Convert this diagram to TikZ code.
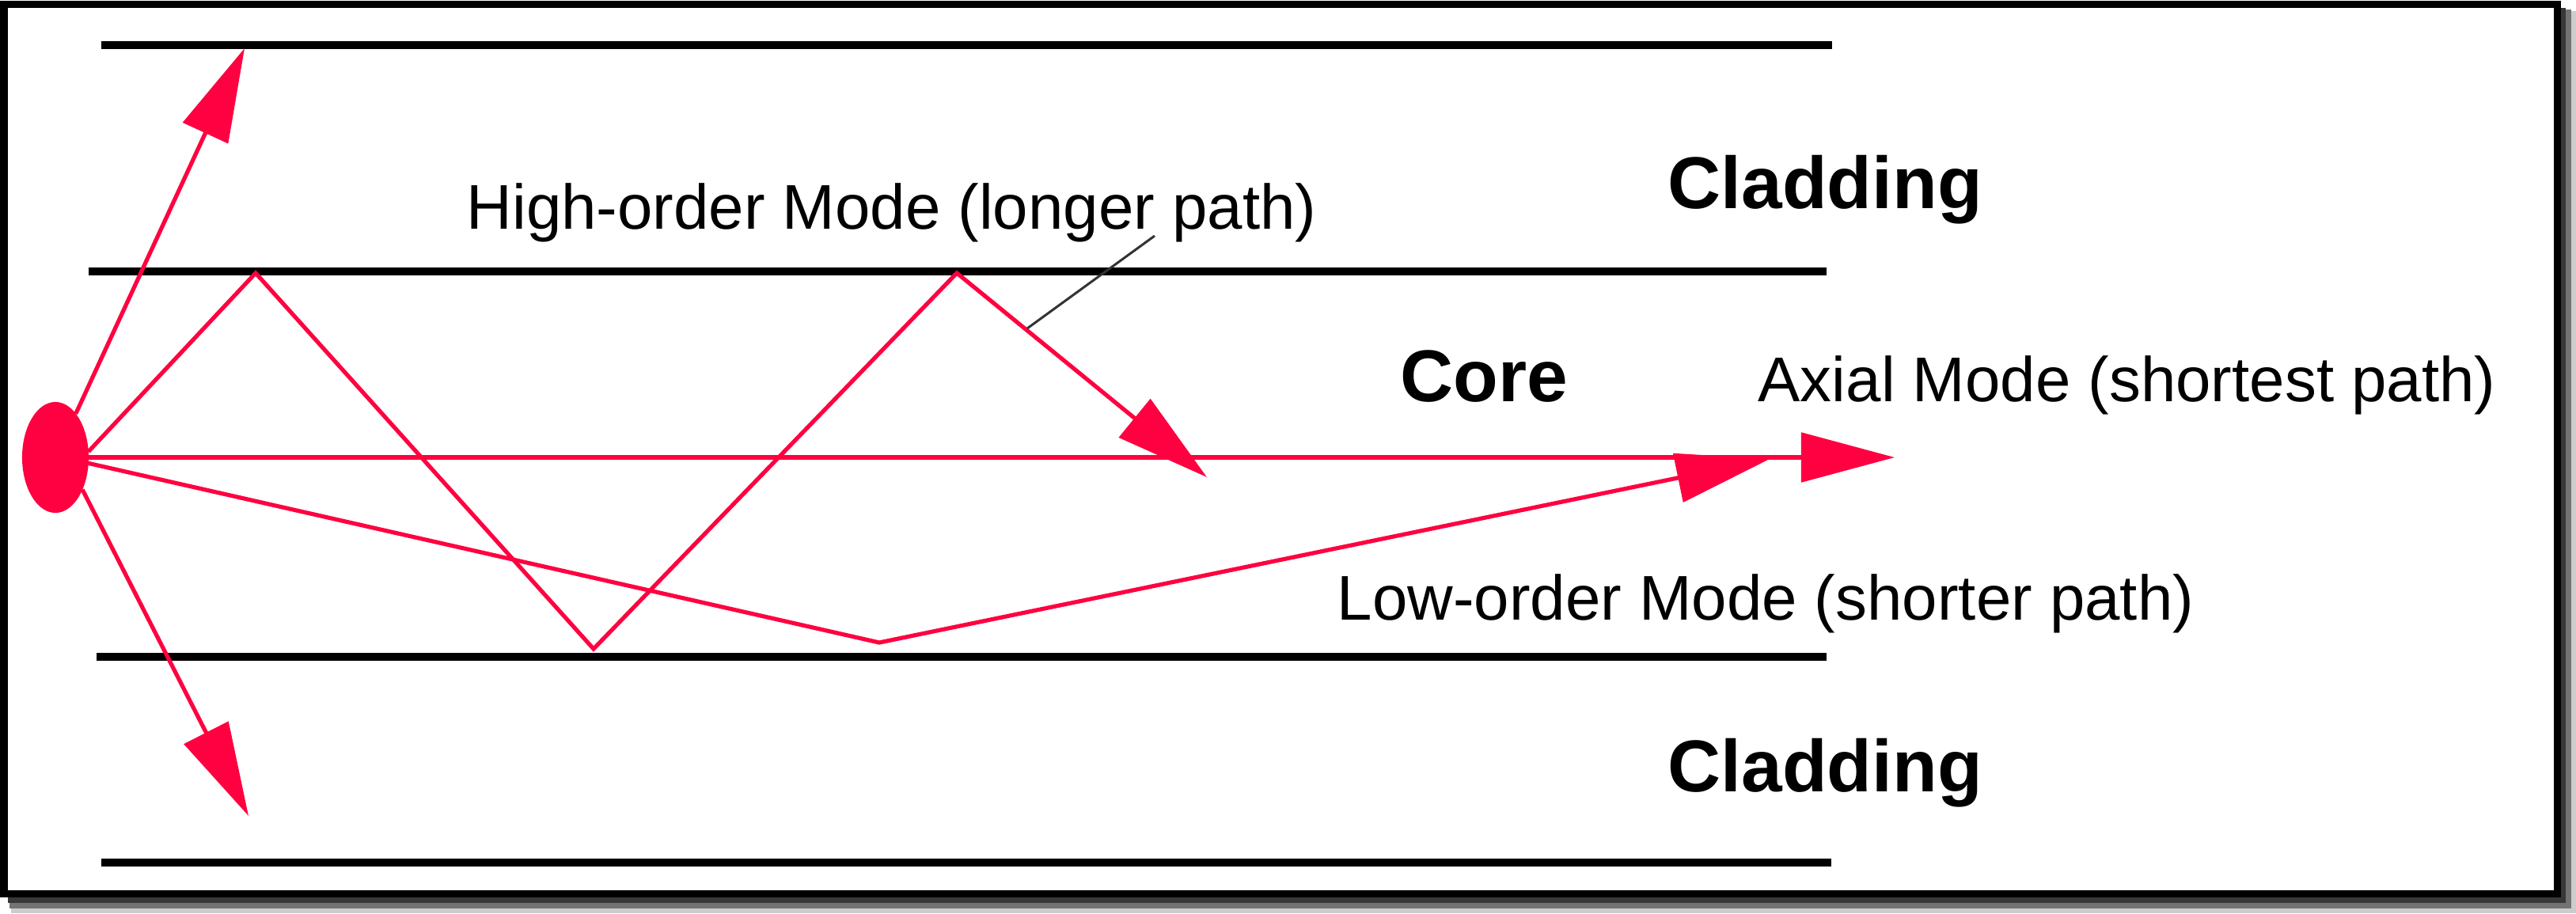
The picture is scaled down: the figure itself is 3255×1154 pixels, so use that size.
\documentclass[tikz,border=0pt]{standalone}
\usepackage{fontspec}
\setmainfont{Liberation Sans}
\usetikzlibrary{arrows.meta,shapes.geometric}
\definecolor{rayred}{RGB}{255,0,64}
\begin{document}
\begin{tikzpicture}[x=0.01cm,y=-0.01cm,
  ray/.style={draw=rayred, line width=0.052cm, line join=miter},
  rayarrow/.style={ray, -{Triangle[length=1.18cm,width=0.62cm]}},
  bound/.style={line width=0.1cm},
  lbl/.style={anchor=base west, inner sep=0pt, font=\fontsize{22.7pt}{27pt}\selectfont},
  blbl/.style={anchor=base west, inner sep=0pt, font=\fontsize{26.4pt}{31pt}\selectfont\bfseries},
  leader/.style={draw=black!80, line width=0.03cm}]
\useasboundingbox (0,0) rectangle (3255,1154);
% frame with shadow
\fill[black!20] (14,14) rectangle (3255,1154);
\fill[black!55] (12,12) rectangle (3249,1148);
\fill[black!78] (10,10) rectangle (3242,1141);
\draw[line width=0.09cm, fill=white] (5,5) rectangle (3231,1129);
% boundaries
\coordinate (a1) at (128,57);   \coordinate (a2) at (2315,57);
\coordinate (b1) at (112,343);  \coordinate (b2) at (2308,343);
\coordinate (c1) at (122,830);  \coordinate (c2) at (2308,830);
\coordinate (d1) at (128,1090); \coordinate (d2) at (2314,1090);
\draw[bound] (a1) -- (a2);
\draw[bound] (b1) -- (b2);
\draw[bound] (c1) -- (c2);
\draw[bound] (d1) -- (d2);
% source
\node[ellipse, fill=rayred, minimum width=0.84cm, minimum height=1.40cm, inner sep=0pt, outer sep=0pt] (src) at (70,578) {};
% ray points
\coordinate (uptip) at (309,61);
\coordinate (dntip) at (314,1031);
\coordinate (axtip) at (2394,578);
\coordinate (h1) at (323,345);
\coordinate (h2) at (750,820);
\coordinate (h3) at (1209,345);
\coordinate (htip) at (1525,603);
\coordinate (l1) at (1111,812);
\coordinate (ltip) at (2236,580);
\coordinate (ldA) at (1298,415);
\coordinate (ldB) at (1459,298);
% rays
\draw[rayarrow] (src.65) -- (uptip);
\draw[rayarrow] (src.-50) -- (dntip);
\draw[rayarrow] (src.east) -- (axtip);
\draw[rayarrow] (src.10) -- (h1) -- (h2) -- (h3) -- (htip);
\draw[rayarrow] (src.-10) -- (l1) -- (ltip);
\draw[leader] (ldA) -- (ldB);
% labels
\node[blbl] (clad1) at (2107,263) {Cladding};
\node[blbl] (core) at (1769,507) {Core};
\node[blbl] (clad2) at (2107,1000) {Cladding};
\node[lbl] (hi) at (589,289) {High-order Mode (longer path)};
\node[lbl] (ax) at (2221,507) {Axial Mode (shortest path)};
\node[lbl] (lo) at (1689,783) {Low-order Mode (shorter path)};
\end{tikzpicture}
\end{document}
